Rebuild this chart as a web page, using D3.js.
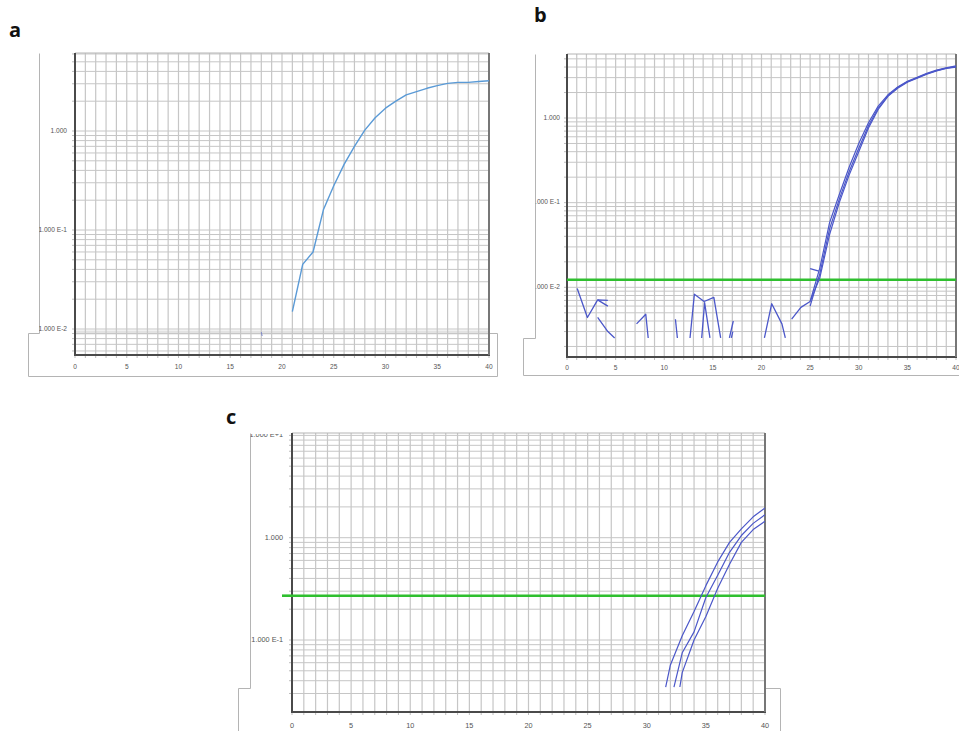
<!DOCTYPE html>
<html><head><meta charset="utf-8">
<script src="https://cdn.jsdelivr.net/npm/d3@7"></script>
<style>html,body{margin:0;padding:0;background:#fff;} svg{display:block;}</style>
</head><body>
<svg id="chart" width="959" height="731"></svg>
<script>
// ---------- data ----------
const xTickValues = [0, 5, 10, 15, 20, 25, 30, 35, 40];
const xTickLabels = ["0", "5", "10", "15", "20", "25", "30", "35", "40"];

const yTickValuesAB = [1, 0.1, 0.01];
const yTickLabelsAB = ["1.000", "1.000 E-1", "1.000 E-2"];
const yTickValuesC = [10, 1, 0.1];
const yTickLabelsC = ["1.000 E+1", "1.000", "1.000 E-1"];

// panel a
const aCycles = [21, 22, 23, 24, 25, 26, 27, 28, 29, 30, 31, 32, 33, 34, 35, 36, 37, 38, 39, 40];
const aValues = [0.015, 0.045, 0.060, 0.16, 0.28, 0.46, 0.70, 1.02, 1.36, 1.70, 2.0, 2.32, 2.5, 2.7, 2.87, 3.03, 3.1, 3.1, 3.16, 3.22];
const aSpeck = [[18.0, 0.0093], [18.08, 0.0085]];
const aBandValue = 0.0092;

// panel b
const bThreshold = 0.0123;
const bNoise1 = [[1.05, 0.0097], [2.1, 0.0044], [3.15, 0.0071], [4.2, 0.0070]];
const bNoise2 = [[3.15, 0.0071], [4.2, 0.0060]];
const bNoise3 = [[3.15, 0.0044], [4.2, 0.0030], [4.9, 0.00252]];
const bNoise4 = [[7.15, 0.0037], [8.1, 0.0048], [8.35, 0.00252]];
const bNoise5 = [[11.15, 0.0042], [11.35, 0.00252]];
const bNoise6 = [[12.65, 0.00252], [13.1, 0.0083], [14.1, 0.0068], [15.1, 0.0076], [15.8, 0.00252]];
const bNoise7 = [[13.85, 0.00252], [14.15, 0.0066], [14.7, 0.00252]];
const bNoise8 = [[16.7, 0.00252], [17.1, 0.0040]];
const bNoise9 = [[16.9, 0.00252], [17.05, 0.0030]];
const bNoise10 = [[20.3, 0.00252], [21.05, 0.0064], [22.1, 0.0037], [22.45, 0.00252]];
const bLead = [[23.1, 0.0042], [24.05, 0.0058], [25.0, 0.0068]];
const bDash = [[25.0, 0.0166], [25.9, 0.0155]];
const bCycles = [25, 26, 27, 28, 29, 30, 31, 32, 33, 34, 35, 36, 37, 38, 39, 40];
const bCurve1 = [0.0068, 0.017, 0.058, 0.125, 0.26, 0.50, 0.88, 1.38, 1.88, 2.33, 2.72, 3.02, 3.38, 3.68, 3.92, 4.12];
const bCurve2 = [0.0068, 0.013, 0.042, 0.10, 0.21, 0.40, 0.76, 1.26, 1.80, 2.25, 2.65, 2.95, 3.30, 3.60, 3.85, 4.00];
const bCurve3 = [0.0060, 0.0145, 0.049, 0.11, 0.23, 0.44, 0.81, 1.31, 1.83, 2.29, 2.68, 2.98, 3.33, 3.63, 3.88, 4.05];

// panel c
const cThreshold = 0.271;
const cCycles1 = [31.6, 32, 33, 34, 35, 36, 37, 38, 39, 40];
const cCurve1 = [0.0347, 0.057, 0.11, 0.19, 0.34, 0.58, 0.90, 1.22, 1.60, 1.95];
const cCycles2 = [32.3, 33, 34, 35, 36, 37, 38, 39, 40];
const cCurve2 = [0.0347, 0.075, 0.12, 0.26, 0.43, 0.72, 1.05, 1.38, 1.68];
const cCycles3 = [32.8, 33, 34, 35, 36, 37, 38, 39, 40];
const cCurve3 = [0.0347, 0.048, 0.10, 0.17, 0.32, 0.55, 0.90, 1.20, 1.45];

// ---------- drawing ----------
const svg = d3.select("#chart");
const defs = svg.append("defs");
const gridColor = "#c6c6c6";
const curveBlue = "#4b57c9";
const greenColor = "#2fbf2f";

function zip(xs, ys) { return xs.map((x, i) => [x, ys[i]]); }

function panel(cfg) {
  const g = svg.append("g");
  const x = d3.scaleLinear().domain([0, 40]).range([cfg.x0, cfg.x1]);
  const y = d3.scaleLog().domain(cfg.anchorDom).range(cfg.anchorRng);
  const id = "clip" + cfg.name;
  defs.append("clipPath").attr("id", id).append("rect")
    .attr("x", cfg.x0).attr("y", cfg.yTop)
    .attr("width", cfg.x1 - cfg.x0).attr("height", cfg.yBot - cfg.yTop);
  const tid = "tclip" + cfg.name;
  defs.append("clipPath").attr("id", tid).append("rect")
    .attr("x", cfg.textClipX).attr("y", cfg.textClipY)
    .attr("width", 959).attr("height", 731);

  // outline
  g.append("path").attr("d", cfg.outline).attr("fill", "none")
    .attr("stroke", "#b4b4b4").attr("stroke-width", 1);

  // grid values
  const gridVals = [];
  [-4, -3, -2, -1, 0, 1].forEach(e => {
    for (let k = 1; k <= 9; k++) gridVals.push(k * Math.pow(10, e));
  });
  const hv = gridVals.filter(v => y(v) > cfg.yTop + 0.5 && y(v) < cfg.yBot - 0.5);

  const grid = g.append("g");
  if (cfg.band) {
    grid.append("line").attr("x1", cfg.x0).attr("x2", cfg.x1)
      .attr("y1", y(cfg.band)).attr("y2", y(cfg.band))
      .attr("stroke", "#e2e2e2").attr("stroke-width", 4);
  }
  grid.selectAll("line.h").data(hv).join("line")
    .attr("x1", cfg.x0).attr("x2", cfg.x1)
    .attr("y1", d => y(d)).attr("y2", d => y(d))
    .attr("stroke", gridColor).attr("stroke-width", 1);
  grid.selectAll("line.v").data(d3.range(1, 40)).join("line")
    .attr("x1", d => x(d)).attr("x2", d => x(d))
    .attr("y1", cfg.yTop).attr("y2", cfg.yBot)
    .attr("stroke", gridColor).attr("stroke-width", 1.2);

  // top border
  g.append("line").attr("x1", cfg.x0).attr("x2", cfg.x1)
    .attr("y1", cfg.yTop).attr("y2", cfg.yTop).attr("stroke", "#b4b4b4");

  // small ticks
  g.selectAll("line.yt").data(hv).join("line")
    .attr("x1", cfg.x0 - 3).attr("x2", cfg.x0)
    .attr("y1", d => y(d)).attr("y2", d => y(d))
    .attr("stroke", "#bdbdbd");
  g.selectAll("line.xt").data(d3.range(0, 41)).join("line")
    .attr("x1", d => x(d)).attr("x2", d => x(d))
    .attr("y1", cfg.yBot).attr("y2", cfg.yBot + 3)
    .attr("stroke", "#bdbdbd");

  // axes lines
  g.append("line").attr("x1", cfg.x0).attr("x2", cfg.x0)
    .attr("y1", cfg.yTop).attr("y2", cfg.yBot + 1)
    .attr("stroke", "#4a4a4a").attr("stroke-width", 2);
  g.append("line").attr("x1", cfg.x0).attr("x2", cfg.x1 + 1)
    .attr("y1", cfg.yBot).attr("y2", cfg.yBot)
    .attr("stroke", "#4a4a4a").attr("stroke-width", 2);
  g.append("line").attr("x1", cfg.x1).attr("x2", cfg.x1)
    .attr("y1", cfg.yTop).attr("y2", cfg.yBot)
    .attr("stroke", "#777").attr("stroke-width", 2);

  // tick labels
  const tg = g.append("g").attr("clip-path", `url(#${tid})`)
    .attr("font-family", "'Liberation Sans', Arial, sans-serif")
    .attr("font-size", cfg.fs).attr("fill", "#555");
  tg.selectAll("text.x").data(xTickValues).join("text")
    .attr("x", d => x(d)).attr("y", cfg.xLabelY)
    .attr("text-anchor", "middle")
    .text((d, i) => xTickLabels[i]);
  tg.selectAll("text.y").data(cfg.yTicks).join("text")
    .attr("x", cfg.x0 - cfg.yLabelGap).attr("y", d => y(d))
    .attr("text-anchor", "end").attr("dominant-baseline", "middle")
    .text((d, i) => cfg.yLabels[i]);

  // data
  const line = d3.line().x(d => x(d[0])).y(d => y(d[1]));
  const dg = g.append("g").attr("clip-path", `url(#${id})`);
  if (cfg.threshold) {
    dg.append("line").attr("x1", cfg.x0 - 10).attr("x2", cfg.x1)
      .attr("y1", y(cfg.threshold)).attr("y2", y(cfg.threshold))
      .attr("stroke", greenColor).attr("stroke-width", 2.6);
  }
  cfg.series.forEach(s => {
    dg.append("path").attr("d", line(s.pts)).attr("fill", "none")
      .attr("stroke", s.color).attr("stroke-width", s.w || 1.3)
      .attr("stroke-linejoin", "round");
  });
  if (cfg.threshold && cfg.greenOut) {
    g.append("line").attr("x1", cfg.x0 - 10).attr("x2", cfg.x0)
      .attr("y1", y(cfg.threshold)).attr("y2", y(cfg.threshold))
      .attr("stroke", greenColor).attr("stroke-width", 2.6);
  }

  // panel letter
  svg.append("text").attr("x", cfg.letter.x).attr("y", cfg.letter.y)
    .attr("font-family", "'Open Sans', 'Liberation Sans', sans-serif")
    .attr("font-weight", 700).attr("font-size", 20).attr("fill", "#111")
    .text(cfg.letter.t);
}

panel({
  name: "a", x0: 75, x1: 489, yTop: 53, yBot: 355,
  anchorDom: [0.01, 1], anchorRng: [329, 131],
  outline: "M39.5,53.5V333.5H28.5V376.5H497.5V333.5H489",
  textClipX: 39, textClipY: 0,
  fs: 6.6, xLabelY: 369, yLabelGap: 8,
  yTicks: yTickValuesAB, yLabels: yTickLabelsAB,
  band: aBandValue,
  series: [
    { pts: zip(aCycles, aValues), color: "#5a9ad6", w: 1.4 },
    { pts: aSpeck, color: "#7a86c8", w: 1 }
  ],
  letter: { x: 9, y: 37, t: "a" }
});

panel({
  name: "b", x0: 567, x1: 956, yTop: 54, yBot: 357,
  anchorDom: [0.01, 1], anchorRng: [287.3, 118],
  outline: "M535.5,54.5V338.5H523.5V375.5H959",
  textClipX: 535.5, textClipY: 0,
  fs: 6.6, xLabelY: 370, yLabelGap: 7,
  yTicks: yTickValuesAB, yLabels: yTickLabelsAB,
  threshold: bThreshold, greenOut: false,
  series: [bNoise1, bNoise2, bNoise3, bNoise4, bNoise5, bNoise6, bNoise7, bNoise8, bNoise9, bNoise10, bLead, bDash]
    .map(p => ({ pts: p, color: curveBlue, w: 1.3 }))
    .concat([
      { pts: zip(bCycles, bCurve1), color: curveBlue, w: 1.2 },
      { pts: zip(bCycles, bCurve2), color: curveBlue, w: 1.2 },
      { pts: zip(bCycles, bCurve3), color: curveBlue, w: 1.2 }
    ]),
  letter: { x: 534, y: 22, t: "b" }
});

panel({
  name: "c", x0: 292, x1: 765, yTop: 433, yBot: 712,
  anchorDom: [0.1, 1], anchorRng: [640, 537.7],
  outline: "M250.5,433.5V688.5H238.5V731 M765,688.5H780.5V731",
  textClipX: 250.5, textClipY: 434,
  fs: 7.3, xLabelY: 728, yLabelGap: 9,
  yTicks: yTickValuesC, yLabels: yTickLabelsC,
  threshold: cThreshold, greenOut: true,
  series: [
    { pts: zip(cCycles1, cCurve1), color: curveBlue, w: 1.2 },
    { pts: zip(cCycles2, cCurve2), color: curveBlue, w: 1.2 },
    { pts: zip(cCycles3, cCurve3), color: curveBlue, w: 1.2 }
  ],
  letter: { x: 226, y: 424, t: "c" }
});
</script>
</body></html>
